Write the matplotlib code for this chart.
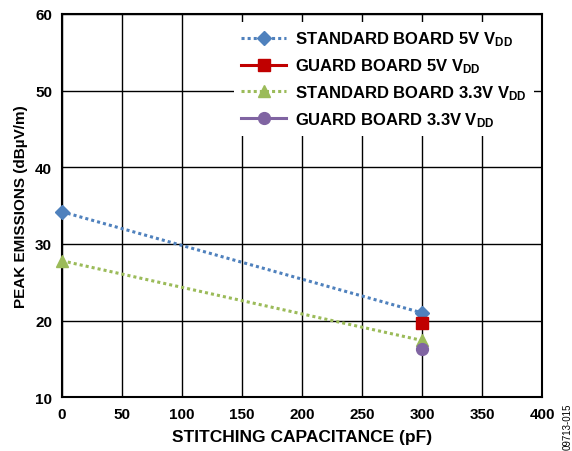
import matplotlib
matplotlib.use("Agg")
import matplotlib.pyplot as plt

plt.rcParams['font.family'] = ['Liberation Sans', 'DejaVu Sans']
plt.rcParams['font.weight'] = 'bold'
plt.rcParams['mathtext.fontset'] = 'custom'
plt.rcParams['mathtext.rm'] = 'Liberation Sans'
plt.rcParams['mathtext.bf'] = 'Liberation Sans:bold'

# data
std5_x = [0, 300]
std5_y = [34.2, 21.0]
guard5_x = [300]
guard5_y = [19.7]
std33_x = [0, 300]
std33_y = [27.8, 17.4]
guard33_x = [300]
guard33_y = [16.3]

labels = [r'STANDARD BOARD 5V $\mathbf{V_{DD}}$',
          r'GUARD BOARD 5V $\mathbf{V_{DD}}$',
          r'STANDARD BOARD 3.3V $\mathbf{V_{DD}}$',
          r'GUARD BOARD 3.3V $\mathbf{V_{DD}}$']

fig = plt.figure(figsize=(5.72, 4.52), dpi=100)
ax = fig.add_axes([0.108, 0.119, 0.840, 0.848])

ax.plot(std5_x, std5_y, color='#4F81BD', ls=(0, (1, 1)), lw=2.2,
        marker='D', ms=7.5, label=labels[0], zorder=3, clip_on=False)
ax.plot(guard5_x, guard5_y, color='#C00000', ls='-', lw=2.2,
        marker='s', ms=8.5, label=labels[1], zorder=4, clip_on=False)
ax.plot(std33_x, std33_y, color='#9BBB59', ls=(0, (1, 1)), lw=2.2,
        marker='^', ms=9, label=labels[2], zorder=3, clip_on=False)
ax.plot(guard33_x, guard33_y, color='#8064A2', ls='-', lw=2.2,
        marker='o', ms=8.5, label=labels[3], zorder=5, clip_on=False)

ax.set_xlim(0, 400)
ax.set_ylim(10, 60)
ax.set_xticks(range(0, 401, 50))
ax.set_yticks(range(10, 61, 10))
ax.grid(True, color='black', lw=1)
ax.set_axisbelow(True)
for s in ax.spines.values():
    s.set_linewidth(1.5)
ax.tick_params(labelsize=11, length=0, pad=7)
for t in ax.get_xticklabels() + ax.get_yticklabels():
    t.set_fontweight('bold')

ax.set_xlabel('STITCHING CAPACITANCE (pF)', fontsize=12.5, fontweight='bold', labelpad=6)
ax.set_ylabel('PEAK EMISSIONS (dBµV/m)', fontsize=11, fontweight='bold', labelpad=5)

leg = ax.legend(loc='upper right', bbox_to_anchor=(1.0, 1.0), fontsize=12,
                frameon=True, fancybox=False, edgecolor='none', framealpha=1,
                handlelength=2.7, handletextpad=0.5, labelspacing=0.48,
                borderpad=0.45)
for t in leg.get_texts():
    t.set_fontweight('bold')

fig.text(0.993, 0.005, '09713-015', rotation=90, fontsize=7, fontweight='normal',
         ha='center', va='bottom')

fig.savefig('out.png', dpi=100)
